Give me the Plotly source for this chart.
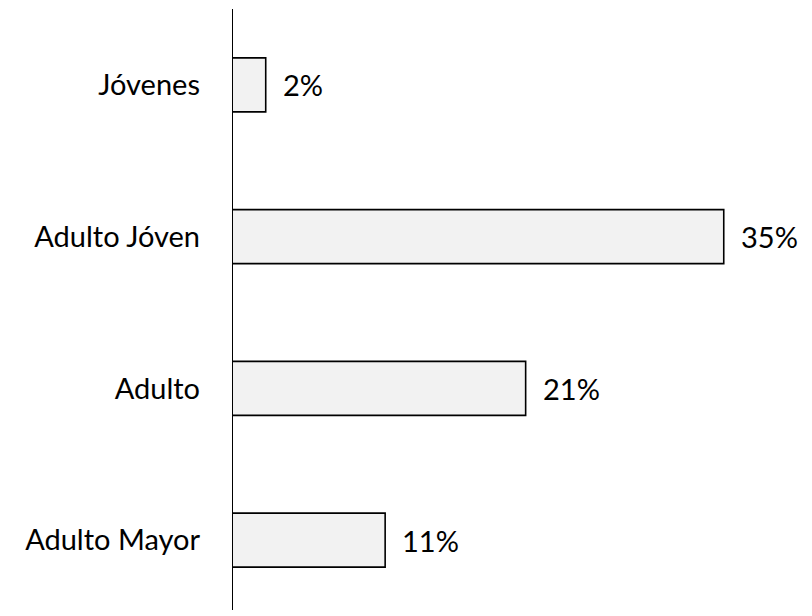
import plotly.graph_objects as go

categories = ["Jóvenes", "Adulto Jóven", "Adulto", "Adulto Mayor"]
values = [2.4, 35.0, 20.9, 10.9]
labels = ["2%", "35%", "21%", "11%"]

FONT = "Lato, 'Open Sans', sans-serif"

fig = go.Figure(go.Bar(
    y=categories, x=values, orientation="h",
    marker=dict(color="#f2f2f2", line=dict(color="#000000", width=1.6)),
    hoverinfo="skip",
))

for c, v, t in zip(categories, values, labels):
    fig.add_annotation(x=v, y=c, text=t, showarrow=False, xanchor="left",
                       xshift=15, font=dict(family=FONT, size=29, color="#000000"))

# vertical axis line
fig.add_shape(type="line", xref="x", yref="paper", x0=0, x1=0, y0=0.01, y1=1,
              layer="above", line=dict(color="#000000", width=2))

# page body has an 8px margin; compensate so the plot lands where intended
fig.update_layout(
    width=804, height=608,
    margin=dict(l=224, r=18, t=1, b=0),
    paper_bgcolor="white", plot_bgcolor="white",
    font=dict(family=FONT, size=29, color="#000000"),
    bargap=0.644,
    showlegend=False,
)
fig.update_xaxes(range=[0, 40], visible=False)
fig.update_yaxes(
    autorange="reversed", showline=False, zeroline=False,
    showgrid=False, ticks="", ticklabelstandoff=31, tickfont=dict(size=29),
)
fig.write_html("out.html")
